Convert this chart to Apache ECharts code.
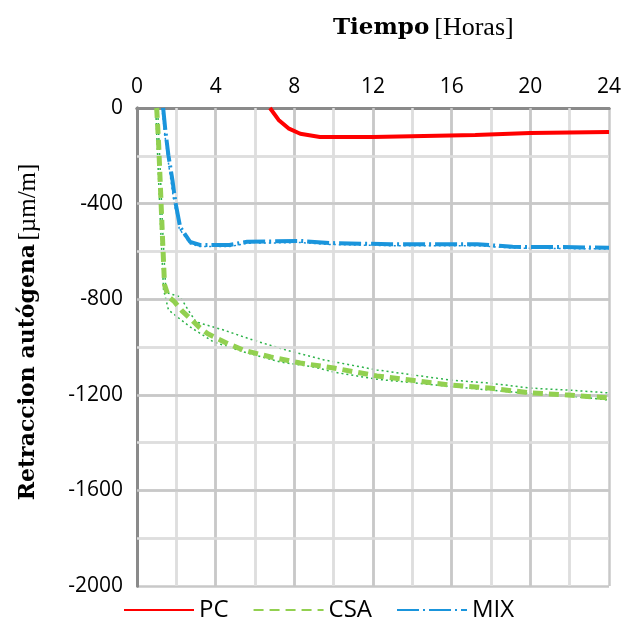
<!DOCTYPE html>
<html>
<head>
<meta charset="utf-8">
<script src="https://cdn.jsdelivr.net/npm/echarts@6/dist/echarts.min.js"></script>
<style>
  html, body { margin: 0; padding: 0; background: #fff; }
  #chart { width: 624px; height: 629px; }
</style>
</head>
<body>
<div id="chart"></div>
<script>
// tiempo (horas) y retracción (µm/m)
var pcT = [6.76, 7.2, 7.7, 8.3, 9.3, 12.0, 12.1, 17.2, 17.3, 20.0, 20.1, 24];
var pcV = [0, -50, -85, -108, -121, -121, -113, -113, -105, -105, -100, -100];

var csaT = [1.0, 1.1, 1.2, 1.3, 1.4, 1.6, 1.9, 2.3, 2.7, 3.2, 3.6, 4.6, 5.4, 6.8, 8.3, 10, 12.2, 13.9, 15.9, 17.9, 20, 21.9, 24];
var csaV = [0, -150, -350, -550, -740, -790, -810, -850, -880, -920, -945, -985, -1013, -1042, -1067, -1088, -1121, -1138, -1159, -1172, -1192, -1201, -1213];

var csaAltoT = [1.05, 1.15, 1.3, 1.45, 1.6, 2.2, 2.6, 3.0, 4.4, 5.9, 7.6, 9.5, 12.2, 15.9, 17.9, 20, 21.9, 24];
var csaAltoV = [0, -200, -500, -740, -775, -790, -845, -895, -929, -971, -1013, -1054, -1096, -1138, -1151, -1172, -1180, -1192];
var csaBajoT = [0.95, 1.05, 1.2, 1.35, 1.6, 2.7, 3.9, 5.6, 7.3, 9.0, 10, 12.2, 15.9, 17.9, 20, 22, 24];
var csaBajoV = [0, -200, -500, -760, -845, -916, -979, -1025, -1063, -1084, -1105, -1135, -1165, -1180, -1195, -1205, -1222];

var mixT = [1.33, 1.45, 1.6, 1.8, 1.95, 2.2, 2.7, 3.2, 4.7, 5.6, 8.3, 9.8, 12.9, 17.3, 19.1, 21.7, 24];
var mixV = [0, -100, -200, -300, -393, -500, -560, -573, -573, -560, -556, -565, -570, -570, -581, -582, -585];
var mixBordeT = [1.27, 1.4, 1.55, 1.72, 1.88, 2.15, 2.7, 3.2, 4.7, 5.6, 8.3, 9.8, 12.9, 17.3, 19.1, 21.7, 24];
var mixBordeV = [0, -100, -200, -300, -393, -505, -568, -580, -580, -566, -563, -571, -576, -576, -586, -588, -590];

// rejilla cada 2 h / 200 µm/m, etiquetas cada 4 h / 400 µm/m
var xPaso = 2, xEtiqueta = 4, xMax = 24;
var yPaso = 200, yEtiqueta = 400, yMin = -2000;

function pares(t, v) {
  return t.map(function (x, i) { return [x, v[i]]; });
}

function borde() {
  return { show: true, lineStyle: { color: '#8a8a8a', width: 3 } };
}

// líneas de la rejilla como markLine (valores de eje, no píxeles)
function rejilla() {
  var lineas = [];
  for (var x = xPaso; x < xMax; x += xPaso) {
    lineas.push({ xAxis: x, lineStyle: { color: x % xEtiqueta === 0 ? '#c8c8c8' : '#dedede' } });
  }
  for (var y = yMin + yPaso; y < 0; y += yPaso) {
    lineas.push({ yAxis: y, lineStyle: { color: y % yEtiqueta === 0 ? '#c8c8c8' : '#dedede' } });
  }
  return lineas;
}

var chart = echarts.init(document.getElementById('chart'));

var option = {
  animation: false,
  backgroundColor: '#fff',
  title: {
    text: '{b|Tiempo} {r|[Horas]}',
    left: 328,
    top: 10,
    textStyle: {
      rich: {
        b: { fontFamily: 'DejaVu Serif', fontWeight: 'bold', fontSize: 23, color: '#000' },
        r: { fontFamily: 'Liberation Serif', fontWeight: 'normal', fontSize: 26, color: '#000' }
      }
    }
  },
  legend: {
    bottom: 2,
    left: 118,
    itemWidth: 70,
    itemHeight: 12,
    itemGap: 24,
    itemStyle: { opacity: 0 },
    textStyle: { fontFamily: 'Open Sans', fontSize: 24, color: '#000' },
    data: ['PC', 'CSA', 'MIX']
  },
  grid: {
    left: 137,
    right: 15,
    top: 108,
    bottom: 43
  },
  xAxis: [{
    type: 'value',
    position: 'top',
    min: 0,
    max: xMax,
    interval: xPaso,
    axisLine: borde(),
    axisTick: { show: false },
    axisLabel: {
      margin: 10,
      fontFamily: 'Open Sans',
      fontSize: 21,
      color: '#000',
      formatter: function (v) { return v % xEtiqueta === 0 ? String(v) : ''; }
    },
    splitLine: { show: true, lineStyle: { color: ['#c8c8c8', '#dedede'], width: 2.5 } }
  }, {
    type: 'value',
    position: 'bottom',
    min: 0,
    max: xMax,
    axisLine: borde(),
    axisTick: { show: false },
    axisLabel: { show: false },
    splitLine: { show: false }
  }],
  yAxis: [{
    type: 'value',
    min: yMin,
    max: 0,
    interval: yPaso,
    name: '{b|Retraccion autógena} {r|[µm/m]}',
    nameLocation: 'middle',
    nameRotate: 90,
    nameGap: 96,
    nameTextStyle: {
      padding: [0, 0, 0, 30],
      rich: {
        b: { fontFamily: 'DejaVu Serif', fontWeight: 'bold', fontSize: 22, color: '#000' },
        r: { fontFamily: 'Liberation Serif', fontWeight: 'normal', fontSize: 25, color: '#000' }
      }
    },
    axisLine: borde(),
    axisTick: { show: false },
    axisLabel: {
      margin: 14,
      fontFamily: 'Open Sans',
      fontSize: 21,
      color: '#000',
      formatter: function (v) { return v % yEtiqueta === 0 ? String(v) : ''; }
    },
    splitLine: { show: true, lineStyle: { color: ['#c8c8c8', '#dedede'], width: 2.5 } }
  }, {
    type: 'value',
    position: 'right',
    min: yMin,
    max: 0,
    axisLine: borde(),
    axisTick: { show: false },
    axisLabel: { show: false },
    splitLine: { show: false }
  }],
  series: [
    {
      name: 'rejilla',
      type: 'line',
      data: pares(pcT, pcV),
      symbol: 'none',
      lineStyle: { opacity: 0 },
      silent: true,
      z: 3,
      markLine: {
        silent: true,
        symbol: ['none', 'none'],
        label: { show: false },
        lineStyle: { type: 'solid', width: 2.5 },
        emphasis: { disabled: true },
        data: rejilla()
      }
    },
    {
      name: 'CSA alto',
      type: 'line',
      data: pares(csaAltoT, csaAltoV),
      symbol: 'none',
      lineStyle: { color: '#2db34a', width: 1.5, type: [2, 3] },
      z: 4
    },
    {
      name: 'CSA bajo',
      type: 'line',
      data: pares(csaBajoT, csaBajoV),
      symbol: 'none',
      lineStyle: { color: '#2db34a', width: 1.5, type: [2, 3] },
      z: 4
    },
    {
      name: 'MIX borde',
      type: 'line',
      data: pares(mixBordeT, mixBordeV),
      symbol: 'none',
      lineStyle: { color: '#1a8fd8', width: 1.5, type: [2, 3] },
      z: 4
    },
    {
      name: 'PC',
      type: 'line',
      data: pares(pcT, pcV),
      symbol: 'none',
      itemStyle: { color: '#ff0000' },
      lineStyle: { color: '#ff0000', width: 4 },
      z: 6
    },
    {
      name: 'CSA',
      type: 'line',
      data: pares(csaT, csaV),
      symbol: 'none',
      itemStyle: { color: '#92d050' },
      lineStyle: { color: '#92d050', width: 5, type: [10, 6] },
      z: 5
    },
    {
      name: 'MIX',
      type: 'line',
      data: pares(mixT, mixV),
      symbol: 'none',
      itemStyle: { color: '#00b0f0' },
      lineStyle: { color: '#1a95dc', width: 4, type: [22, 4, 2, 4] },
      z: 5
    }
  ]
};

chart.setOption(option);
</script>
</body>
</html>
